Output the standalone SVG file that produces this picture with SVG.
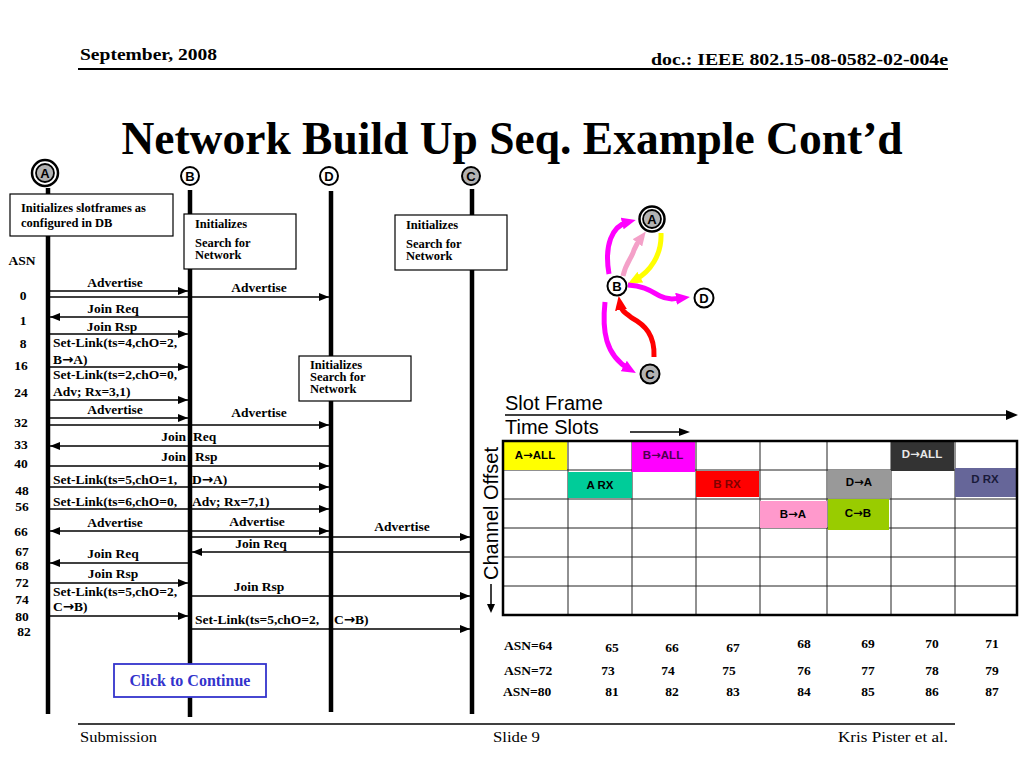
<svg xmlns="http://www.w3.org/2000/svg" width="1024" height="768" viewBox="0 0 1024 768">
<style>
.hd{font-family:"Liberation Serif",serif;font-weight:bold;font-size:17px;fill:#000}
.ft{font-family:"Liberation Serif",serif;font-size:15px;fill:#000}
.title{font-family:"Liberation Serif",serif;font-weight:bold;font-size:45.5px;fill:#000}
.lbl{font-family:"Liberation Serif",serif;font-weight:bold;font-size:13.5px;fill:#000}
.box{font-family:"Liberation Serif",serif;font-weight:bold;font-size:12.5px;fill:#000}
.asn{font-family:"Liberation Serif",serif;font-weight:bold;font-size:13.5px;fill:#000;text-anchor:middle}
.num{font-family:"Liberation Serif",serif;font-weight:bold;font-size:13.5px;fill:#000;text-anchor:middle}
.nl{font-family:"Liberation Sans",Arial,sans-serif;font-weight:bold;font-size:13px;text-anchor:middle;fill:#000}
.cell{font-family:"Liberation Sans",Arial,sans-serif;font-weight:bold;font-size:11.5px;text-anchor:middle}
.big{font-family:"Liberation Sans",Arial,sans-serif;font-size:20px;fill:#000}
.ar{font-family:"DejaVu Sans",sans-serif;font-weight:bold}
.life{stroke:#000;stroke-width:4.5}
.msg{stroke:#000;stroke-width:1.5;fill:none}
.ibox{fill:#fff;stroke:#000;stroke-width:1.2}
.grid{stroke:#222;stroke-width:1}
.c{text-anchor:middle}
</style>
<defs>
<marker id="ah" viewBox="0 0 10 8" refX="10" refY="4" markerWidth="10" markerHeight="8" markerUnits="userSpaceOnUse" orient="auto-start-reverse"><path d="M0,0L10,4L0,8z" fill="#000"/></marker>
<marker id="mm" viewBox="0 0 14 12" refX="6" refY="6" markerWidth="14" markerHeight="12" markerUnits="userSpaceOnUse" orient="auto"><path d="M0,0L14,6L0,12z" fill="#ff00ff"/></marker>
<marker id="mp" viewBox="0 0 14 12" refX="6" refY="6" markerWidth="14" markerHeight="12" markerUnits="userSpaceOnUse" orient="auto"><path d="M0,0L14,6L0,12z" fill="#f4a0c8"/></marker>
<marker id="my" viewBox="0 0 14 12" refX="6" refY="6" markerWidth="14" markerHeight="12" markerUnits="userSpaceOnUse" orient="auto"><path d="M0,0L14,6L0,12z" fill="#ffff00"/></marker>
<marker id="mr" viewBox="0 0 14 12" refX="6" refY="6" markerWidth="14" markerHeight="12" markerUnits="userSpaceOnUse" orient="auto"><path d="M0,0L14,6L0,12z" fill="#ff0000"/></marker>
</defs>
<rect width="1024" height="768" fill="#fff"/>

<!-- header / footer -->
<text class="hd" x="80" y="60" textLength="137" lengthAdjust="spacingAndGlyphs">September, 2008</text>
<text class="hd" x="651" y="65" textLength="297" lengthAdjust="spacingAndGlyphs">doc.: IEEE 802.15-08-0582-02-004e</text>
<line x1="78" y1="69" x2="948" y2="69" stroke="#000" stroke-width="2"/>
<text class="title" x="512" y="154" text-anchor="middle">Network Build Up Seq. Example Cont’d</text>
<line x1="78" y1="724" x2="955" y2="724" stroke="#000" stroke-width="1.5"/>
<text class="ft" x="80" y="742" textLength="77" lengthAdjust="spacingAndGlyphs">Submission</text>
<text class="ft" x="493" y="742" textLength="47" lengthAdjust="spacingAndGlyphs">Slide 9</text>
<text class="ft" x="838" y="742" textLength="110" lengthAdjust="spacingAndGlyphs">Kris Pister et al.</text>

<!-- lifelines -->
<g id="lifelines">
<line class="life" x1="48" y1="188" x2="48" y2="714"/>
<line class="life" x1="190" y1="190" x2="190" y2="717"/>
<line class="life" x1="331" y1="191" x2="331" y2="712"/>
<line class="life" x1="472" y1="189" x2="472" y2="714"/>
</g>

<!-- sequence nodes -->
<g id="seqA">
<circle cx="45" cy="173" r="13" fill="#fff" stroke="#000" stroke-width="2.5"/>
<circle cx="45" cy="173" r="9" fill="#b3b3b3" stroke="#000" stroke-width="1.8"/>
<text class="nl" x="45" y="178">A</text>
</g>
<g id="seqB">
<circle cx="190" cy="176" r="9" fill="#fff" stroke="#000" stroke-width="2"/>
<text class="nl" x="190" y="181">B</text>
</g>
<g id="seqD">
<circle cx="329" cy="176" r="9" fill="#fff" stroke="#000" stroke-width="2"/>
<text class="nl" x="329" y="181">D</text>
</g>
<g id="seqC">
<circle cx="471" cy="176" r="9" fill="#b3b3b3" stroke="#000" stroke-width="2"/>
<text class="nl" x="471" y="181">C</text>
</g>

<!-- init boxes -->
<g id="boxA">
<rect class="ibox" x="10" y="194" width="163" height="42"/>
<text class="box" x="21" y="212">Initializes slotframes as</text>
<text class="box" x="21" y="227">configured in DB</text>
</g>
<g id="boxB">
<rect class="ibox" x="184" y="214" width="112" height="55"/>
<text class="box" x="195" y="228">Initializes</text>
<text class="box" x="195" y="247">Search for</text>
<text class="box" x="195" y="259">Network</text>
</g>
<g id="boxC">
<rect class="ibox" x="395" y="215" width="112" height="55"/>
<text class="box" x="406" y="229">Initializes</text>
<text class="box" x="406" y="248">Search for</text>
<text class="box" x="406" y="260">Network</text>
</g>
<g id="boxD">
<rect class="ibox" x="299" y="356" width="112" height="45"/>
<text class="box" x="310" y="369">Initializes</text>
<text class="box" x="310" y="381">Search for</text>
<text class="box" x="310" y="393">Network</text>
</g>

<!-- ASN column -->
<g id="asn">
<text class="asn" x="22" y="265">ASN</text>
<text class="asn" x="23" y="300">0</text>
<text class="asn" x="23" y="325">1</text>
<text class="asn" x="23" y="348">8</text>
<text class="asn" x="21" y="370">16</text>
<text class="asn" x="21" y="397">24</text>
<text class="asn" x="21" y="427">32</text>
<text class="asn" x="21" y="449">33</text>
<text class="asn" x="21" y="468">40</text>
<text class="asn" x="22" y="495">48</text>
<text class="asn" x="22" y="511">56</text>
<text class="asn" x="21" y="536">66</text>
<text class="asn" x="22" y="556" font-size="13">67</text>
<text class="asn" x="22" y="570" font-size="13">68</text>
<text class="asn" x="22" y="587">72</text>
<text class="asn" x="22" y="604">74</text>
<text class="asn" x="22" y="621">80</text>
<text class="asn" x="24" y="636">82</text>
</g>

<!-- messages -->
<g id="connectors">
<line class="msg" x1="50" y1="291" x2="188" y2="291" marker-end="url(#ah)"/>
<line class="msg" x1="50" y1="297" x2="329" y2="297" marker-end="url(#ah)"/>
<line class="msg" x1="188" y1="317" x2="50" y2="317" marker-end="url(#ah)"/>
<line class="msg" x1="50" y1="334" x2="188" y2="334" marker-end="url(#ah)"/>
<line class="msg" x1="50" y1="367" x2="188" y2="367" marker-end="url(#ah)"/>
<line class="msg" x1="50" y1="400" x2="188" y2="400" marker-end="url(#ah)"/>
<line class="msg" x1="50" y1="418" x2="188" y2="418" marker-end="url(#ah)"/>
<line class="msg" x1="50" y1="425" x2="329" y2="425" marker-end="url(#ah)"/>
<line class="msg" x1="329" y1="446" x2="50" y2="446" marker-end="url(#ah)"/>
<line class="msg" x1="50" y1="466" x2="329" y2="466" marker-end="url(#ah)"/>
<line class="msg" x1="50" y1="487" x2="329" y2="487" marker-end="url(#ah)"/>
<line class="msg" x1="50" y1="509" x2="329" y2="509" marker-end="url(#ah)"/>
<line class="msg" x1="50" y1="531" x2="329" y2="531" marker-start="url(#ah)" marker-end="url(#ah)"/>
<line class="msg" x1="192" y1="537" x2="470" y2="537" marker-end="url(#ah)"/>
<line class="msg" x1="470" y1="552" x2="192" y2="552" marker-end="url(#ah)"/>
<line class="msg" x1="188" y1="563" x2="50" y2="563" marker-end="url(#ah)"/>
<line class="msg" x1="50" y1="583" x2="188" y2="583" marker-end="url(#ah)"/>
<line class="msg" x1="192" y1="596" x2="470" y2="596" marker-end="url(#ah)"/>
<line class="msg" x1="50" y1="616" x2="188" y2="616" marker-end="url(#ah)"/>
<line class="msg" x1="192" y1="629" x2="470" y2="629" marker-end="url(#ah)"/>
</g>

<g id="msgLabels">
<text class="lbl c" x="115" y="287">Advertise</text>
<text class="lbl c" x="259" y="292">Advertise</text>
<text class="lbl c" x="113" y="313">Join Req</text>
<text class="lbl c" x="112" y="331">Join Rsp</text>
<text class="lbl" x="53" y="347">Set-Link(ts=4,chO=2,</text>
<text class="lbl" x="53" y="364">B<tspan class="ar">→</tspan>A)</text>
<text class="lbl" x="53" y="379">Set-Link(ts=2,chO=0,</text>
<text class="lbl" x="53" y="396">Adv; Rx=3,1)</text>
<text class="lbl c" x="115" y="414">Advertise</text>
<text class="lbl c" x="259" y="417">Advertise</text>
<text class="lbl" x="186" y="441" text-anchor="end">Join</text>
<text class="lbl" x="193" y="441">Req</text>
<text class="lbl" x="186" y="461" text-anchor="end">Join</text>
<text class="lbl" x="195" y="461">Rsp</text>
<text class="lbl" x="53" y="484">Set-Link(ts=5,chO=1,</text>
<text class="lbl" x="192" y="484">D<tspan class="ar">→</tspan>A)</text>
<text class="lbl" x="53" y="506">Set-Link(ts=6,chO=0,</text>
<text class="lbl" x="192" y="506">Adv; Rx=7,1)</text>
<text class="lbl c" x="115" y="527">Advertise</text>
<text class="lbl c" x="257" y="526">Advertise</text>
<text class="lbl c" x="402" y="531">Advertise</text>
<text class="lbl c" x="261" y="548">Join Req</text>
<text class="lbl c" x="113" y="558">Join Req</text>
<text class="lbl c" x="113" y="578">Join Rsp</text>
<text class="lbl c" x="259" y="591">Join Rsp</text>
<text class="lbl" x="53" y="596">Set-Link(ts=5,chO=2,</text>
<text class="lbl" x="53" y="611">C<tspan class="ar">→</tspan>B)</text>
<text class="lbl" x="195" y="624">Set-Link(ts=5,chO=2,</text>
<text class="lbl" x="334" y="624">C<tspan class="ar">→</tspan>B)</text>
</g>

<g id="clickBox">
<rect x="114" y="664" width="152" height="33" fill="#fff" stroke="#3333cc" stroke-width="1.8"/>
<text x="190" y="686" text-anchor="middle" font-family="'Liberation Serif',serif" font-weight="bold" font-size="16" fill="#3333cc">Click to Continue</text>
</g>

<!-- topology graph -->
<g id="graphEdges" fill="none" stroke-width="5" stroke-linecap="butt">
<path d="M609,274 C604,245 612,226 628,222" stroke="#ff00ff" marker-end="url(#mm)"/>
<path d="M623,276 C626,262 632,258 634,250 C636,245 638,242 641,238" stroke="#f4a0c8" marker-end="url(#mp)"/>
<path d="M661,233 C662,255 650,272 635,280" stroke="#ffff00" marker-end="url(#my)"/>
<path d="M628,285 C645,286 652,292 660,296 C668,300 674,299 682,298" stroke="#ff00ff" marker-end="url(#mm)"/>
<path d="M654,357 C655,335 645,325 632,318 C624,312 621,310 620,304" stroke="#ff0000" marker-end="url(#mr)"/>
<path d="M605,302 C602,330 605,355 629,369" stroke="#ff00ff" marker-end="url(#mm)"/>
</g>
<g id="gA">
<circle cx="652" cy="219" r="12.5" fill="#fff" stroke="#000" stroke-width="2.5"/>
<circle cx="652" cy="219" r="9" fill="#b3b3b3" stroke="#000" stroke-width="1.8"/>
<text class="nl" x="652" y="224">A</text>
</g>
<g id="gB">
<circle cx="617" cy="286" r="9.5" fill="#fff" stroke="#000" stroke-width="2"/>
<text class="nl" x="617" y="291">B</text>
</g>
<g id="gD">
<circle cx="704" cy="298" r="9.5" fill="#fff" stroke="#000" stroke-width="2"/>
<text class="nl" x="704" y="303">D</text>
</g>
<g id="gC">
<circle cx="650" cy="374" r="9.5" fill="#b3b3b3" stroke="#000" stroke-width="2"/>
<text class="nl" x="650" y="379">C</text>
</g>

<!-- slot frame table -->
<g id="slotFrame">
<text class="big" x="505" y="410">Slot Frame</text>
<line x1="505" y1="415" x2="1008" y2="415" stroke="#000" stroke-width="1.5"/>
<path d="M1018,415 L1006,410 L1006,420 z" fill="#000"/>
<text class="big" x="505" y="434">Time Slots</text>
<line x1="630" y1="432" x2="680" y2="432" stroke="#000" stroke-width="1.5"/>
<path d="M690,432 L679,428 L679,436 z" fill="#000"/>
<text class="big" transform="translate(498,580) rotate(-90)">Channel Offset</text>
<line x1="491" y1="584" x2="491" y2="605" stroke="#000" stroke-width="1.5"/>
<path d="M491,613 L487,604 L495,604 z" fill="#000"/>

<rect x="503" y="441" width="514" height="174" fill="#fff"/>
<g class="grid">
<line x1="568" y1="441" x2="568" y2="615"/>
<line x1="632" y1="441" x2="632" y2="615"/>
<line x1="696" y1="441" x2="696" y2="615"/>
<line x1="760" y1="441" x2="760" y2="615"/>
<line x1="827" y1="441" x2="827" y2="615"/>
<line x1="891" y1="441" x2="891" y2="615"/>
<line x1="955" y1="441" x2="955" y2="615"/>
<line x1="503" y1="470" x2="1017" y2="470"/>
<line x1="503" y1="499" x2="1017" y2="499"/>
<line x1="503" y1="528" x2="1017" y2="528"/>
<line x1="503" y1="557" x2="1017" y2="557"/>
<line x1="503" y1="586" x2="1017" y2="586"/>
</g>
<rect x="504" y="442" width="63" height="28" fill="#ffff00"/>
<text class="cell" x="535" y="459" fill="#000">A<tspan class="ar">→</tspan>ALL</text>
<rect x="632" y="442" width="63" height="30" fill="#ff00ff"/>
<text class="cell" x="663" y="459" fill="#4d004d">B<tspan class="ar">→</tspan>ALL</text>
<rect x="891" y="442" width="63" height="29" fill="#333333"/>
<text class="cell" x="922" y="458" fill="#e8e8e8">D<tspan class="ar">→</tspan>ALL</text>
<rect x="568" y="472" width="64" height="26" fill="#00cc99"/>
<text class="cell" x="600" y="489" fill="#000">A RX</text>
<rect x="696" y="471" width="63" height="26" fill="#ff0000"/>
<text class="cell" x="727" y="488" fill="#800000">B RX</text>
<rect x="828" y="470" width="63" height="28" fill="#999999"/>
<text class="cell" x="859" y="486" fill="#000">D<tspan class="ar">→</tspan>A</text>
<rect x="955" y="468" width="61" height="29" fill="#666699"/>
<text class="cell" x="985" y="483" fill="#1a1a3a">D RX</text>
<rect x="760" y="501" width="67" height="27" fill="#ff99cc"/>
<text class="cell" x="793" y="518" fill="#000">B<tspan class="ar">→</tspan>A</text>
<rect x="828" y="499" width="61" height="31" fill="#99cc00"/>
<text class="cell" x="858" y="517" fill="#000">C<tspan class="ar">→</tspan>B</text>
<rect x="503" y="441" width="514" height="174" fill="none" stroke="#000" stroke-width="2.5"/>
</g>

<!-- ASN numbers -->
<g id="asnTable">
<text class="lbl" x="504" y="650" font-size="13">ASN=64</text>
<text class="num" x="612" y="652">65</text>
<text class="num" x="672" y="652">66</text>
<text class="num" x="733" y="652">67</text>
<text class="num" x="804" y="648">68</text>
<text class="num" x="868" y="648">69</text>
<text class="num" x="932" y="648">70</text>
<text class="num" x="992" y="648">71</text>
<text class="lbl" x="504" y="675" font-size="13">ASN=72</text>
<text class="num" x="608" y="675">73</text>
<text class="num" x="668" y="675">74</text>
<text class="num" x="729" y="675">75</text>
<text class="num" x="804" y="675">76</text>
<text class="num" x="868" y="675">77</text>
<text class="num" x="932" y="675">78</text>
<text class="num" x="992" y="675">79</text>
<text class="lbl" x="503" y="696" font-size="13">ASN=80</text>
<text class="num" x="612" y="696">81</text>
<text class="num" x="672" y="696">82</text>
<text class="num" x="733" y="696">83</text>
<text class="num" x="804" y="696">84</text>
<text class="num" x="868" y="696">85</text>
<text class="num" x="932" y="696">86</text>
<text class="num" x="992" y="696">87</text>
</g>
</svg>
